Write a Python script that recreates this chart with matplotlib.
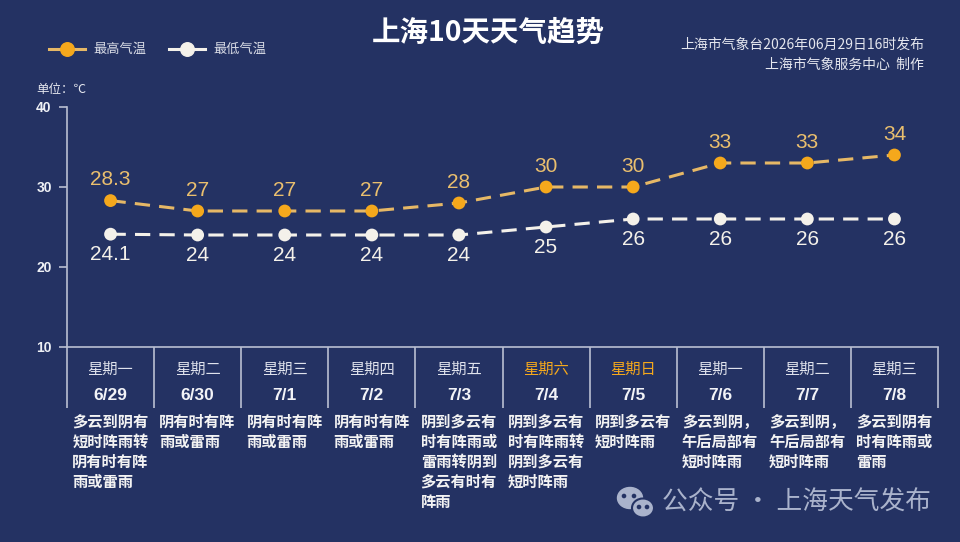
import matplotlib
matplotlib.use('Agg')
import matplotlib.pyplot as plt
from matplotlib.patches import Ellipse, Circle

plt.rcParams['font.family'] = ['Noto Sans CJK SC', 'DejaVu Sans']

# data
weekdays = ['星期一', '星期二', '星期三', '星期四', '星期五', '星期六', '星期日', '星期一', '星期二', '星期三']
dates = ['6/29', '6/30', '7/1', '7/2', '7/3', '7/4', '7/5', '7/6', '7/7', '7/8']
high = [28.3, 27, 27, 27, 28, 30, 30, 33, 33, 34]
low = [24.1, 24, 24, 24, 24, 25, 26, 26, 26, 26]
weather = ['多云到阴有短时阵雨转阴有时有阵雨或雷雨',
           '阴有时有阵雨或雷雨',
           '阴有时有阵雨或雷雨',
           '阴有时有阵雨或雷雨',
           '阴到多云有时有阵雨或雷雨转阴到多云有时有阵雨',
           '阴到多云有时有阵雨转阴到多云有短时阵雨',
           '阴到多云有短时阵雨',
           '多云到阴，午后局部有短时阵雨',
           '多云到阴，午后局部有短时阵雨',
           '多云到阴有时有阵雨或雷雨']
weekend = [5, 6]

bg = '#243263'
orange = '#f5a81c'
orange_line = '#e6b866'
orange_txt = '#eabf6e'
white = '#f4f1ea'
grid_col = '#b9bfd2'

fig = plt.figure(figsize=(9.6, 5.42), dpi=100, facecolor=bg)
W, H = 960, 542

ax = fig.add_axes([67 / W, 1 - 347 / H, 871 / W, 240 / H])
ax.set_facecolor(bg)
ax.set_xlim(0, 10)
ax.set_ylim(10, 40)

xs = [i + 0.5 for i in range(len(high))]
ax.plot(xs, high, color=orange_line, lw=2.2, dashes=(5, 3), zorder=2)
ax.plot(xs, low, color=white, lw=2.2, dashes=(5, 3), zorder=2)
ax.scatter(xs, high, s=85, color=orange, zorder=3, edgecolors='none')
ax.scatter(xs, low, s=85, color=white, zorder=3, edgecolors='none')

for x, v in zip(xs, high):
    ax.annotate(f'{v:g}', (x, v), xytext=(0, 15), textcoords='offset points',
                ha='center', va='center', color=orange_txt, fontsize=15,
                family='Liberation Sans')
for x, v in zip(xs, low):
    ax.annotate(f'{v:g}', (x, v), xytext=(0, -14.5), textcoords='offset points',
                ha='center', va='center', color=white, fontsize=15,
                family='Liberation Sans')

for s in ['top', 'right']:
    ax.spines[s].set_visible(False)
for s in ['left', 'bottom']:
    ax.spines[s].set_color(grid_col)
    ax.spines[s].set_linewidth(1.2)
ax.set_yticks([10, 20, 30, 40])
ax.set_xticks([])
ax.tick_params(axis='y', colors=grid_col, length=6, width=1.2, pad=5)
for lab in ax.get_yticklabels():
    lab.set_color('#eef0f5')
    lab.set_fontweight('bold')
    lab.set_fontsize(10)
    lab.set_family('Liberation Sans')

# table below the plot
tr = ax.get_xaxis_transform()
ax.vlines(range(11), 0, -61 / 240, transform=tr, color=grid_col, lw=1.2, clip_on=False)
for i in range(10):
    c = orange if i in weekend else '#dfe2ec'
    ax.text(i + 0.5, -22 / 240, weekdays[i], transform=tr, ha='center', va='center',
            fontsize=11, color=c)
    ax.text(i + 0.5, -48 / 240, dates[i], transform=tr, ha='center', va='center',
            fontsize=12.5, fontweight='bold', color='#f2f3f7', family='Liberation Sans')
    lines = [weather[i][k:k + 5] for k in range(0, len(weather[i]), 5)]
    for j, line in enumerate(lines):
        ax.text(i + 0.06, -(75 + 20 * j) / 240, line, transform=tr, ha='left', va='center',
                fontsize=11, fontweight='bold', color='#f3f3f3')

# title and header texts
fig.text(488 / W, 1 - 33 / H, '上海10天天气趋势', ha='center', va='center',
         fontsize=20.5, fontweight='bold', color='white')
fig.text(924 / W, 1 - 45 / H, '上海市气象台2026年06月29日16时发布', ha='right', va='center',
         fontsize=10, color='#e4e6ee')
fig.text(924 / W, 1 - 65 / H, '上海市气象服务中心  制作', ha='right', va='center',
         fontsize=10, color='#e4e6ee')
fig.text(36 / W, 1 - 89 / H, '单位：℃', ha='left', va='center', fontsize=9, color='#e4e6ee')

# legend
lg = fig.add_axes([0, 0, 1, 1], facecolor='none')
lg.set_xlim(0, W)
lg.set_ylim(H, 0)
lg.axis('off')
lg.plot([49, 85], [49, 49], color=orange_line, lw=2.2)
lg.scatter([67], [49], s=95, color=orange, zorder=3)
lg.text(93, 49, '最高气温', va='center', ha='left', fontsize=9.5, color='#d9dce6')
lg.plot([169, 205], [49, 49], color=white, lw=2.2)
lg.scatter([187], [49], s=95, color=white, zorder=3)
lg.text(213, 49, '最低气温', va='center', ha='left', fontsize=9.5, color='#d9dce6')

# watermark
wm = '#aab3cc'
lg.add_patch(Ellipse((630, 498), 25, 21, color=wm))
lg.add_patch(Ellipse((643, 508), 22, 19, facecolor=wm, edgecolor=bg, lw=1.5))
for px, py in [(624, 496), (634, 496), (639, 507), (647, 507)]:
    lg.add_patch(Circle((px, py), 1.6, color=bg))
lg.text(662, 503, '公众号 · 上海天气发布', va='center', ha='left', fontsize=18.5, color=wm)

plt.savefig('out.png', dpi=100, facecolor=bg)
